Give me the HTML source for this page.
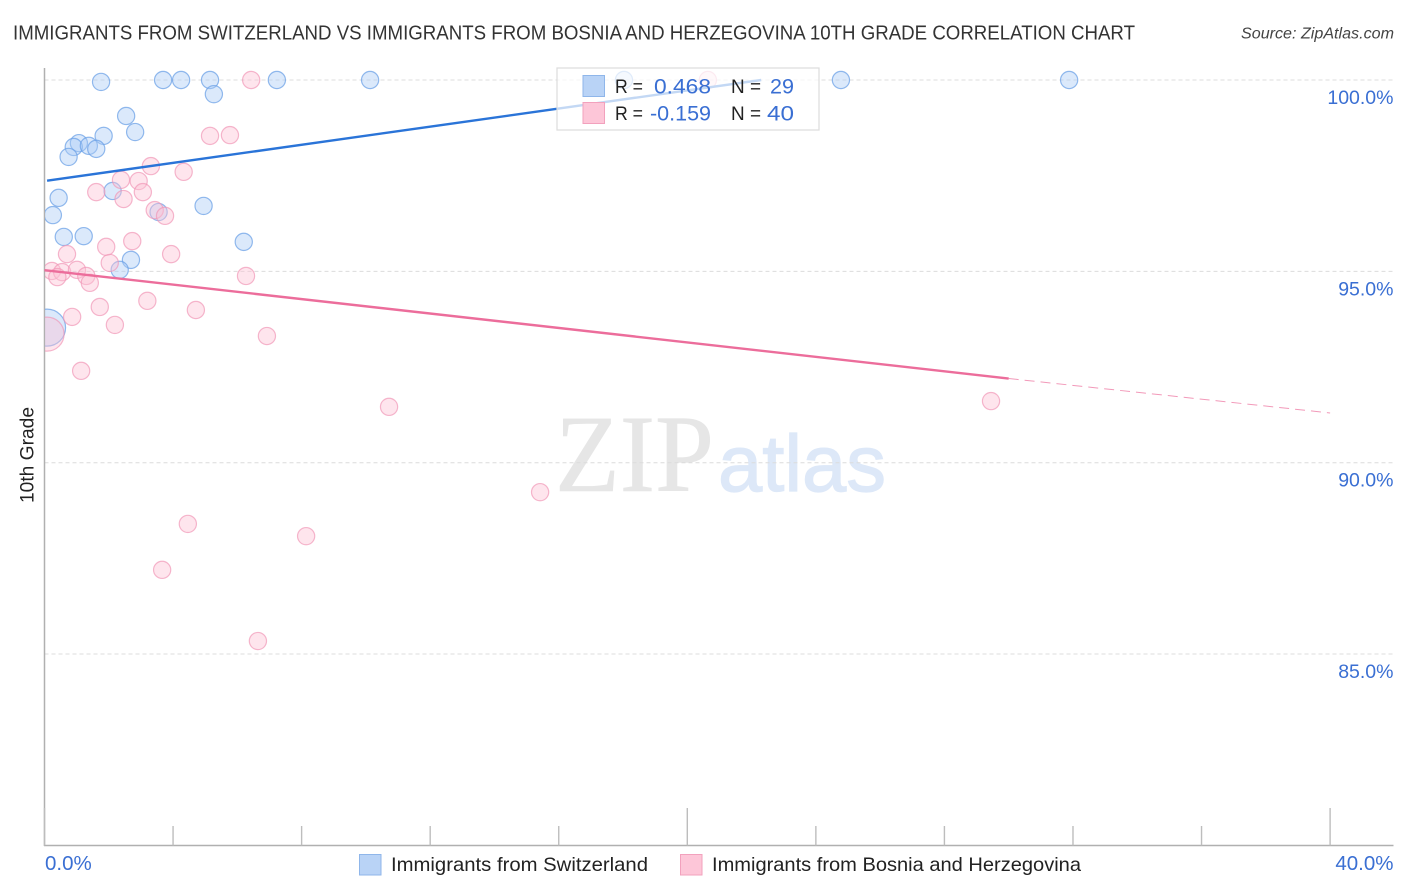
<!DOCTYPE html>
<html>
<head>
<meta charset="utf-8">
<title>Immigrants from Switzerland vs Immigrants from Bosnia and Herzegovina 10th Grade Correlation Chart</title>
<style>
html,body{margin:0;padding:0;background:#fff;width:1406px;height:892px;overflow:hidden}
svg{display:block;font-family:"Liberation Sans",sans-serif}
</style>
</head>
<body>
<svg id="chart" xmlns="http://www.w3.org/2000/svg" width="1406" height="892" viewBox="0 0 1406 892">
  <defs>
    <clipPath id="plot-clip"><rect x="45" y="60" width="1350" height="786"/></clipPath>
  </defs>
  <text x="13" y="39.5" font-size="20" fill="#333" textLength="1122" lengthAdjust="spacingAndGlyphs">IMMIGRANTS FROM SWITZERLAND VS IMMIGRANTS FROM BOSNIA AND HERZEGOVINA 10TH GRADE CORRELATION CHART</text>
  <text x="1241" y="38.5" font-size="15.5" font-style="italic" fill="#444" textLength="153" lengthAdjust="spacingAndGlyphs">Source: ZipAtlas.com</text>
  <text x="555" y="491" font-family="'Liberation Serif',serif" font-size="110" fill="#e6e6e6" stroke="#e6e6e6" stroke-width="0.6" textLength="159" lengthAdjust="spacingAndGlyphs">ZIP</text>
  <text x="718" y="491" font-size="80" fill="#dde8f8" stroke="#dde8f8" stroke-width="1.2" textLength="168" lengthAdjust="spacingAndGlyphs">atlas</text>
  <g id="grid"></g>
  <g id="axes"></g>
  <g id="points" clip-path="url(#plot-clip)"></g>
  <g id="lines"></g>
  <text transform="translate(33.5,503) rotate(-90)" font-size="19.5" fill="#222" textLength="96" lengthAdjust="spacingAndGlyphs">10th Grade</text>

  <g>
    <rect x="557" y="68" width="262" height="62" fill="#fff" fill-opacity="0.72" stroke="#dcdcdc" stroke-width="1.2"/>
    <rect x="583" y="75.5" width="21.5" height="21" fill="#b9d3f6" stroke="#8fb6ea" stroke-width="1"/>
    <rect x="583" y="102.5" width="21.5" height="21" fill="#fdc6d8" stroke="#f2a1bd" stroke-width="1"/>
    <text x="615" y="93" font-size="19.5" fill="#222" textLength="28" lengthAdjust="spacingAndGlyphs">R =</text>
    <text x="654" y="93.5" font-size="21.5" fill="#3a6fd3" textLength="57" lengthAdjust="spacingAndGlyphs">0.468</text>
    <text x="731" y="93" font-size="19.5" fill="#222" textLength="30" lengthAdjust="spacingAndGlyphs">N =</text>
    <text x="770" y="93.5" font-size="21.5" fill="#3a6fd3" textLength="24" lengthAdjust="spacingAndGlyphs">29</text>
    <text x="615" y="120" font-size="19.5" fill="#222" textLength="28" lengthAdjust="spacingAndGlyphs">R =</text>
    <text x="650" y="120.5" font-size="21.5" fill="#3a6fd3" textLength="61" lengthAdjust="spacingAndGlyphs">-0.159</text>
    <text x="731" y="120" font-size="19.5" fill="#222" textLength="30" lengthAdjust="spacingAndGlyphs">N =</text>
    <text x="767" y="120.5" font-size="21.5" fill="#3a6fd3" textLength="27" lengthAdjust="spacingAndGlyphs">40</text>
  </g>

  <g>
    <rect x="359.5" y="854.5" width="21.5" height="20.5" fill="#b9d3f6" stroke="#8fb6ea" stroke-width="1"/>
    <text x="391" y="871" font-size="19.5" fill="#222" textLength="257" lengthAdjust="spacingAndGlyphs">Immigrants from Switzerland</text>
    <rect x="680.5" y="854.5" width="21.5" height="20.5" fill="#fdc6d8" stroke="#f2a1bd" stroke-width="1"/>
    <text x="712" y="871" font-size="19.5" fill="#222" textLength="369" lengthAdjust="spacingAndGlyphs">Immigrants from Bosnia and Herzegovina</text>
  </g>
</svg>
<script>
const swissX = [1.76,3.69,4.25,5.15,5.27,7.23,10.13,18.03,24.78,31.88,2.54,2.82,1.84,1.07,0.91,1.38,1.61,0.75,2.12,0.44,0.26,3.55,4.95,0.60,1.22,6.20,2.69,2.34];
const swissY = [99.95,100,100,100,99.63,100,100,100,100,100,99.06,98.64,98.54,98.35,98.25,98.28,98.20,97.99,97.10,96.92,96.47,96.55,96.71,95.90,95.92,95.77,95.30,95.04];
const swissLargeX = [0.08];
const swissLargeY = [93.53];
const bosniaX = [6.43,20.64,5.15,5.77,3.31,4.33,2.38,2.93,1.61,3.06,2.46,3.43,3.75,2.73,1.92,3.94,0.70,2.03,0.23,0.55,0.40,1.01,1.30,1.41,6.27,3.20,1.72,4.71,0.86,2.19,6.92,1.14,10.72,29.45,15.42,4.46,8.14,3.66,6.64];
const bosniaY = [100,100,98.54,98.56,97.75,97.60,97.39,97.36,97.07,97.07,96.89,96.60,96.45,95.79,95.64,95.45,95.45,95.22,95.01,94.98,94.85,95.04,94.88,94.70,94.88,94.23,94.07,93.99,93.81,93.60,93.31,92.40,91.46,91.61,89.23,88.40,88.08,87.20,85.34];
const bosniaLargeX = [0.08];
const bosniaLargeY = [93.36];
const swissTrendX = [0.08,22.3];
const swissTrendY = [97.37,100];
const bosniaTrendX = [0,30];
const bosniaTrendY = [95.03,92.2];
const bosniaForecastX = [30,40];
const bosniaForecastY = [92.2,91.3];
const yTicks = [100,95,90,85];
const yTickLabels = ["100.0%","95.0%","90.0%","85.0%"];
const xTicks = [0,4,8,12,16,20,24,28,32,36,40];
const xMajorTicks = [0,20,40];
const xEndTicks = [0,40];
const xEndLabels = ["0.0%","40.0%"];

const NS = "http://www.w3.org/2000/svg";
const xScale = v => 44.5 + v * 32.14;
const yScale = v => 80 + (100 - v) * 38.27;

function make(tag, attrs, parent) {
  const el = document.createElementNS(NS, tag);
  for (const k in attrs) el.setAttribute(k, attrs[k]);
  parent.appendChild(el);
  return el;
}

const gridG = document.getElementById("grid");
const axesG = document.getElementById("axes");
const pointsG = document.getElementById("points");
const linesG = document.getElementById("lines");

yTicks.forEach((t, i) => {
  const y = yScale(t);
  const line = make("line", {x1: 44.5, x2: 1393, y1: y, y2: y, stroke: "#dcdcdc", "stroke-width": 1, "stroke-dasharray": "4 3"}, gridG);
  
  
  const label = make("text", {x: 1393.5, y: y + 24, "text-anchor": "end", "font-size": 19.5, fill: "#3a6fd3"}, axesG);
  label.textContent = yTickLabels[i];
  
  
});

const yAxis = make("line", {x1: 44.5, x2: 44.5, y1: 68, y2: 846, stroke: "#b0b0b0", "stroke-width": 1.5}, axesG);


const xAxis = make("line", {x1: 44, x2: 1393.5, y1: 845.5, y2: 845.5, stroke: "#b0b0b0", "stroke-width": 1.5}, axesG);



xTicks.forEach(t => {
  const x = xScale(t);
  const top = xMajorTicks.includes(t) ? 808 : 826;
  const tick = make("line", {x1: x, x2: x, y1: top, y2: 845.5, stroke: "#bdbdbd", "stroke-width": 1.4}, axesG);
  
  
});

xEndTicks.forEach((t, i) => {
  const first = i === 0;
  const label = make("text", {x: first ? xScale(t) + 0.5 : 1393.5, y: 870, "text-anchor": first ? "start" : "end", "font-size": 20.5, fill: "#3a6fd3"}, axesG);
  label.textContent = xEndLabels[i];
  
  
});

function drawSwiss(xs, ys, r) {
  xs.forEach((v, i) => {
    const c = make("circle", {cx: xScale(v), cy: yScale(ys[i]), r: r, fill: "#a9cbf5", "fill-opacity": 0.42, stroke: "#6a9fe6", "stroke-opacity": 0.72, "stroke-width": 1.2}, pointsG);
    
    
  });
}
function drawBosnia(xs, ys, r) {
  xs.forEach((v, i) => {
    const c = make("circle", {cx: xScale(v), cy: yScale(ys[i]), r: r, fill: "#fcc0d4", "fill-opacity": 0.42, stroke: "#f095b5", "stroke-opacity": 0.68, "stroke-width": 1.2}, pointsG);
    
    
  });
}
drawSwiss(swissX, swissY, 8.6);
drawSwiss(swissLargeX, swissLargeY, 18.5);
drawBosnia(bosniaX, bosniaY, 8.6);
drawBosnia(bosniaLargeX, bosniaLargeY, 17);

const blueLine = make("line", {x1: xScale(swissTrendX[0]), y1: yScale(swissTrendY[0]), x2: xScale(swissTrendX[1]), y2: yScale(swissTrendY[1]), stroke: "#2a74d8", "stroke-width": 2.4}, linesG);


const pinkLine = make("line", {x1: xScale(bosniaTrendX[0]), y1: yScale(bosniaTrendY[0]), x2: xScale(bosniaTrendX[1]), y2: yScale(bosniaTrendY[1]), stroke: "#ec6d9b", "stroke-width": 2.4}, linesG);


const pinkDash = make("line", {x1: xScale(bosniaForecastX[0]), y1: yScale(bosniaForecastY[0]), x2: xScale(bosniaForecastX[1]), y2: yScale(bosniaForecastY[1]), stroke: "#ec6d9b", "stroke-width": 1, "stroke-dasharray": "10 6", "stroke-opacity": 0.7}, linesG);


</script>
</body>
</html>
